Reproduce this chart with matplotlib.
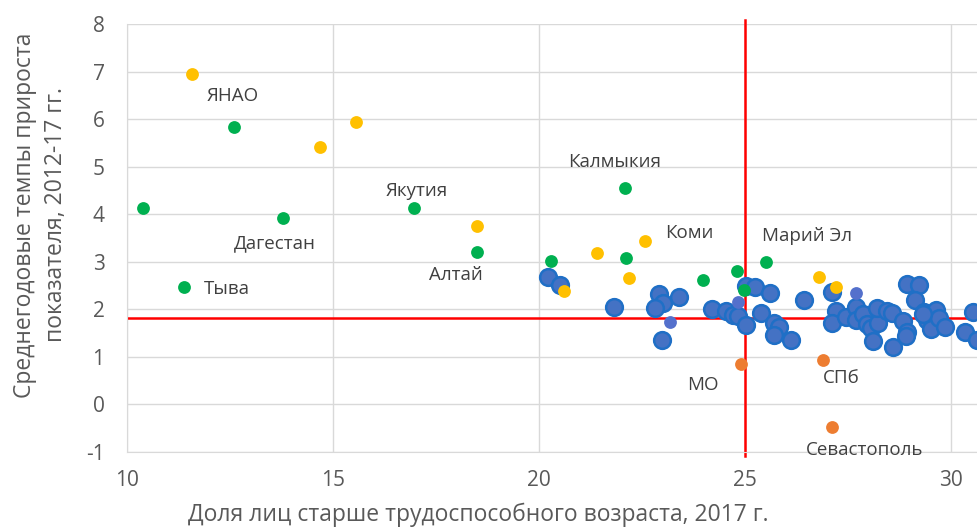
import matplotlib
matplotlib.use("Agg")
import matplotlib.pyplot as plt

plt.rcParams['font.family'] = ['Open Sans', 'DejaVu Sans']
plt.rcParams['axes.unicode_minus'] = False

blue_x = [20.23, 20.51, 21.82, 22.90, 23.01, 22.81, 23.40, 22.99,
          25.01, 25.24, 25.61, 24.20, 24.53, 24.71, 24.83, 25.01, 25.38, 25.71, 25.82, 25.71, 26.11, 26.43,
          27.10, 27.20, 27.10, 27.44, 27.69, 27.70, 27.85, 27.96, 28.06, 28.22, 28.20, 28.44, 28.56, 28.10,
          28.60, 28.82, 28.93, 28.91, 28.93, 29.21, 29.11, 29.33, 29.62, 29.41, 29.50, 29.71, 29.84, 30.33,
          30.53, 30.63, 29.32]
blue_y = [2.67, 2.51, 2.05, 2.33, 2.13, 2.03, 2.26, 1.36,
          2.49, 2.46, 2.35, 2.00, 1.97, 1.88, 1.86, 1.67, 1.93, 1.71, 1.62, 1.46, 1.36, 2.20,
          2.37, 1.97, 1.71, 1.84, 2.05, 1.78, 1.89, 1.68, 1.61, 1.70, 2.02, 1.97, 1.93, 1.34,
          1.21, 1.76, 1.51, 1.43, 2.54, 2.51, 2.19, 1.94, 1.99, 1.77, 1.58, 1.81, 1.62, 1.52,
          1.94, 1.35, 1.90]

light_x = [23.19, 24.82, 27.70]
light_y = [1.74, 2.16, 2.34]

green_x = [10.40, 11.40, 12.59, 13.79, 16.98, 18.50, 20.29, 22.09, 22.10, 23.99, 24.80, 25.50, 24.98]
green_y = [4.13, 2.46, 5.83, 3.91, 4.13, 3.21, 3.02, 4.56, 3.07, 2.61, 2.80, 2.99, 2.41]

yellow_x = [11.58, 14.70, 15.57, 18.50, 21.41, 22.58, 22.18, 20.60, 26.80, 27.20]
yellow_y = [6.95, 5.42, 5.94, 3.75, 3.18, 3.43, 2.65, 2.39, 2.68, 2.46]

orange_x = [24.89, 26.88, 27.10]
orange_y = [0.84, 0.92, -0.49]

labels = ['ЯНАО', 'Дагестан', 'Якутия', 'Алтай', 'Тыва', 'Калмыкия', 'Коми',
          'Марий Эл', 'МО', 'СПб', 'Севастополь']
label_x = [12.57, 13.59, 17.03, 17.99, 11.88, 21.83, 23.65, 26.49, 23.98, 27.33, 27.90]
label_y = [6.49, 3.39, 4.49, 2.73, 2.42, 5.10, 3.60, 3.54, 0.40, 0.56, -0.97]
label_ha = ['center', 'center', 'center', 'center', 'left', 'center', 'center',
            'center', 'center', 'center', 'center']

median_x = 25.0
median_y = 1.82

fig = plt.figure(figsize=(9.78, 5.28), dpi=100)
ax = fig.add_axes([0.1296, 0.1445, 0.8704, 0.8097])
ax.set_xlim(10, 30.65)
ax.set_ylim(-1, 8)
ax.set_xticks([10, 15, 20, 25, 30])
ax.set_yticks(range(-1, 9))
ax.grid(True, color='#D9D9D9', linewidth=1.0)
ax.set_axisbelow(True)
for s in ['top', 'right']:
    ax.spines[s].set_visible(False)
for s in ['left', 'bottom']:
    ax.spines[s].set_color('#D9D9D9')
ax.tick_params(length=0, labelsize=15, colors='#595959')
ax.tick_params(axis='x', pad=13)
ax.tick_params(axis='y', pad=16)

ax.axhline(median_y, color='#FF0000', linewidth=1.8, zorder=2)
ax.axvline(median_x, ymin=-0.01, ymax=1.01, color='#FF0000', linewidth=1.8, zorder=2, clip_on=False)

ax.scatter(blue_x, blue_y, s=145, color='#4472C4', edgecolors='#1F6FC6', linewidths=1.8, zorder=3)
ax.scatter(light_x, light_y, s=85, color='#5470CC', linewidths=0, zorder=3)
ax.scatter(green_x, green_y, s=85, color='#00B050', linewidths=0, zorder=4)
ax.scatter(yellow_x, yellow_y, s=85, color='#FFC000', linewidths=0, zorder=4)
ax.scatter(orange_x, orange_y, s=85, color='#ED7D31', linewidths=0, zorder=4)

for t, x, y, ha in zip(labels, label_x, label_y, label_ha):
    ax.text(x, y, t, ha=ha, va='center', fontsize=13.5, color='#404040', zorder=5)

ax.set_xlabel('Доля лиц старше трудоспособного возраста, 2017 г.', fontsize=16.5,
              color='#595959')
ax.xaxis.set_label_coords(0.4127, -0.148)
ax.xaxis.label.set_verticalalignment('center')
ax.set_ylabel('Среднегодовые темпы прироста\nпоказателя, 2012-17 гг.', fontsize=16.5,
              color='#595959', linespacing=1.4)
ax.yaxis.set_label_coords(-0.101, 0.554)
ax.yaxis.label.set_verticalalignment('center')

fig.savefig('out.png', dpi=100)
